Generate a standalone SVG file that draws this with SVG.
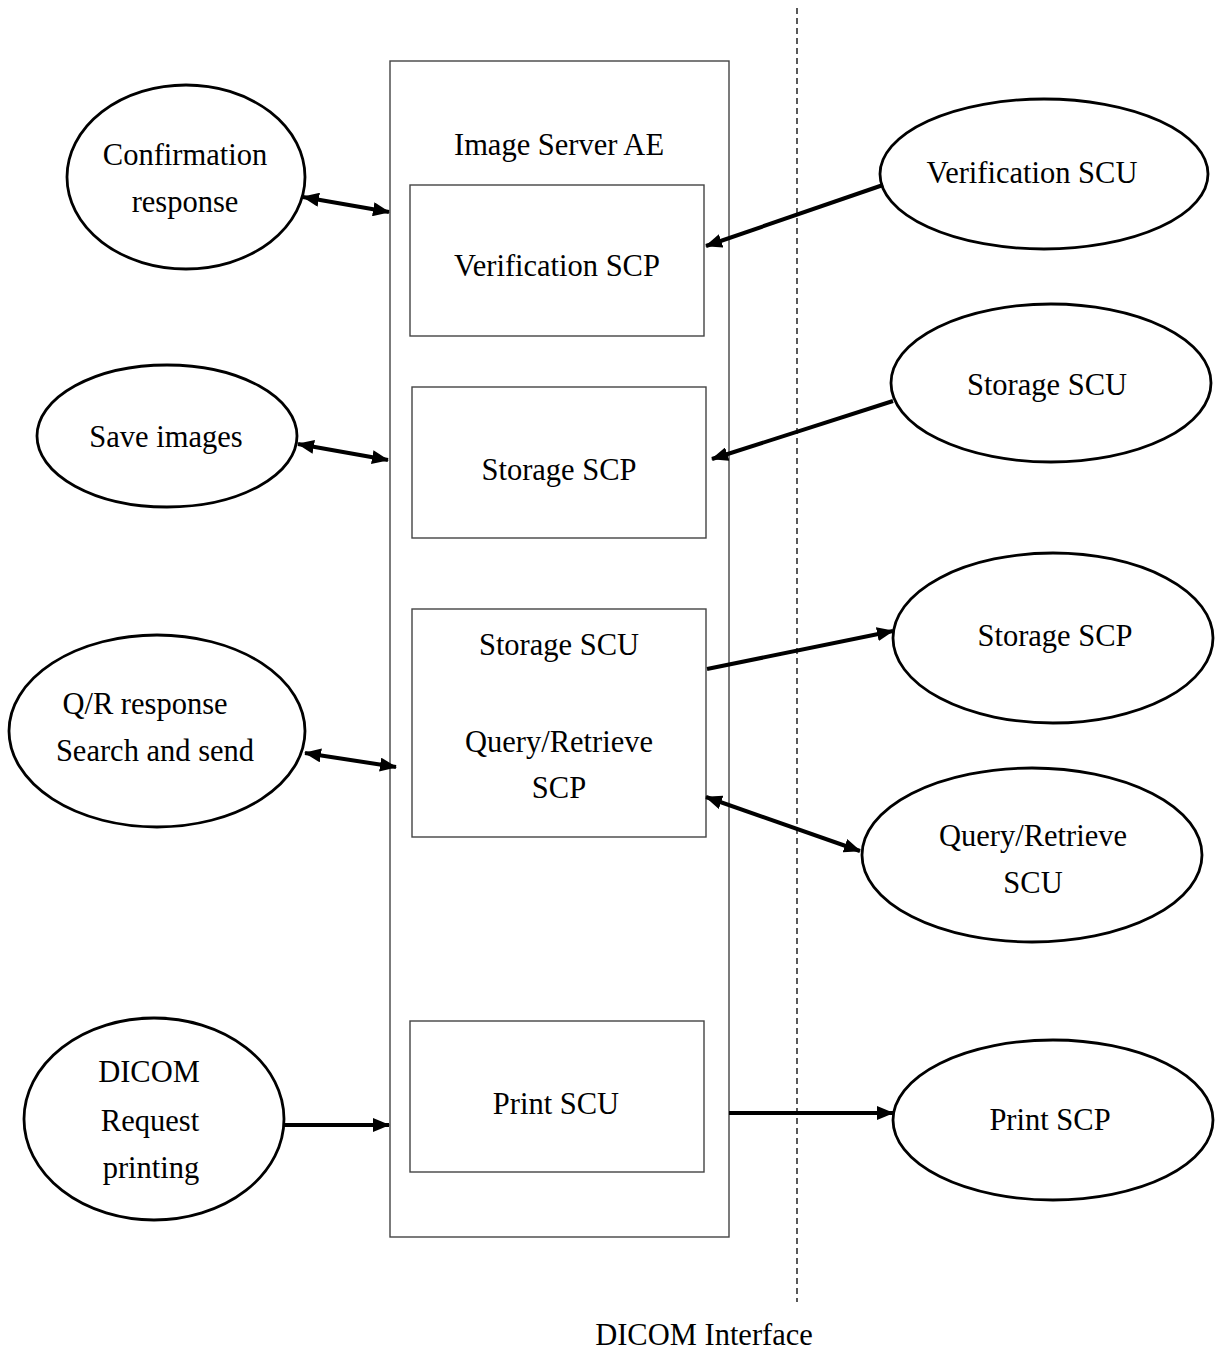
<svg xmlns="http://www.w3.org/2000/svg" width="1216" height="1358" viewBox="0 0 1216 1358">
<style>
text{font-family:"Liberation Serif","Times New Roman",serif;font-size:30.5px;fill:#000;text-anchor:middle}
.box{fill:none;stroke:#444;stroke-width:1.4}
.ell{fill:#fff;stroke:#000;stroke-width:2.8}
.arr{fill:none;stroke:#000;stroke-width:4}
</style>
<defs>
<marker id="ah" viewBox="0 0 17 14" markerWidth="17" markerHeight="14" refX="16" refY="7" orient="auto-start-reverse" markerUnits="userSpaceOnUse">
<path d="M0,0 L17,7 L0,14 z" fill="#000"/>
</marker>
</defs>
<rect width="1216" height="1358" fill="#fff"/>
<line x1="797" y1="8" x2="797" y2="1302" stroke="#000" stroke-width="1.3" stroke-dasharray="6,4"/>
<g id="image-server-ae">
<rect class="box" x="390" y="61" width="339" height="1176"/>
<text x="559" y="155">Image Server AE</text>
</g>
<g id="verification-scp">
<rect class="box" x="410" y="185" width="294" height="151"/>
<text x="557" y="276">Verification SCP</text>
</g>
<g id="storage-scp-box">
<rect class="box" x="412" y="387" width="294" height="151"/>
<text x="559" y="480">Storage SCP</text>
</g>
<g id="storage-scu-qr-scp">
<rect class="box" x="412" y="609" width="294" height="228"/>
<text x="559" y="655">Storage SCU</text>
<text x="559" y="752">Query/Retrieve</text>
<text x="559" y="798">SCP</text>
</g>
<g id="print-scu">
<rect class="box" x="410" y="1021" width="294" height="151"/>
<text x="556" y="1114">Print SCU</text>
</g>
<g id="confirmation-response">
<ellipse class="ell" cx="186" cy="177" rx="119" ry="92"/>
<text x="185" y="165">Confirmation</text>
<text x="185" y="212">response</text>
</g>
<g id="save-images">
<ellipse class="ell" cx="167" cy="436" rx="130" ry="71"/>
<text x="166" y="447">Save images</text>
</g>
<g id="qr-response">
<ellipse class="ell" cx="157" cy="731" rx="148" ry="96"/>
<text x="145" y="714">Q/R response</text>
<text x="155" y="761">Search and send</text>
</g>
<g id="dicom-request-printing">
<ellipse class="ell" cx="154" cy="1119" rx="130" ry="101"/>
<text x="149" y="1082">DICOM</text>
<text x="150" y="1131">Request</text>
<text x="151" y="1178">printing</text>
</g>
<g id="verification-scu">
<ellipse class="ell" cx="1044" cy="174" rx="164" ry="75"/>
<text x="1032" y="183">Verification SCU</text>
</g>
<g id="storage-scu">
<ellipse class="ell" cx="1051" cy="383" rx="160" ry="79"/>
<text x="1047" y="395">Storage SCU</text>
</g>
<g id="storage-scp">
<ellipse class="ell" cx="1053" cy="638" rx="160" ry="85"/>
<text x="1055" y="646">Storage SCP</text>
</g>
<g id="qr-scu">
<ellipse class="ell" cx="1032" cy="855" rx="170" ry="87"/>
<text x="1033" y="846">Query/Retrieve</text>
<text x="1033" y="893">SCU</text>
</g>
<g id="print-scp">
<ellipse class="ell" cx="1053" cy="1120" rx="160" ry="80"/>
<text x="1050" y="1130">Print SCP</text>
</g>
<g id="connectors">
<line class="arr" x1="303" y1="197" x2="389" y2="212" marker-start="url(#ah)" marker-end="url(#ah)"/>
<line class="arr" x1="883" y1="185" x2="706" y2="246" marker-end="url(#ah)"/>
<line class="arr" x1="298" y1="444" x2="388" y2="460" marker-start="url(#ah)" marker-end="url(#ah)"/>
<line class="arr" x1="893" y1="401" x2="712" y2="459" marker-end="url(#ah)"/>
<line class="arr" x1="707" y1="669" x2="893" y2="631" marker-end="url(#ah)"/>
<line class="arr" x1="706" y1="797" x2="860" y2="851" marker-start="url(#ah)" marker-end="url(#ah)"/>
<line class="arr" x1="305" y1="753" x2="396" y2="767" marker-start="url(#ah)" marker-end="url(#ah)"/>
<line class="arr" x1="283" y1="1125" x2="389" y2="1125" marker-end="url(#ah)"/>
<line class="arr" x1="729" y1="1113" x2="893" y2="1113" marker-end="url(#ah)"/>
</g>
<text x="704" y="1345">DICOM Interface</text>
</svg>
